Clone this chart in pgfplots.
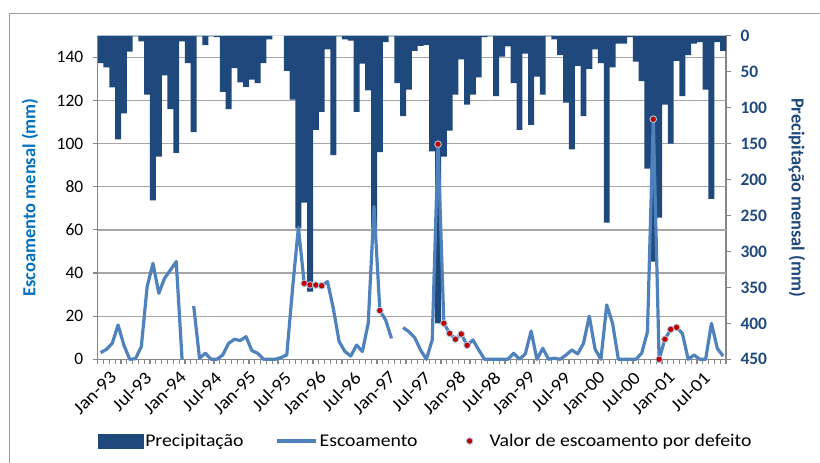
\documentclass[border=0pt]{standalone}
\usepackage{fontspec}
\setmainfont{Carlito}
\newfontfamily\stretchfont[FakeStretch=1.1]{Carlito}
\usepackage{pgfplots}
\usepackage{pgfplotstable}
\pgfplotsset{compat=1.18}
\definecolor{navy}{HTML}{1F497D}
\definecolor{lblue}{HTML}{4F81BD}
\definecolor{labblue}{HTML}{0070C0}
\definecolor{dred}{HTML}{C00000}
\definecolor{axgray}{HTML}{868686}
\definecolor{gridgray}{HTML}{A6A6A6}
\newcommand\cf{\fontsize{17.5}{21}\selectfont}
\newcommand\lf{\stretchfont\fontsize{18}{21}\selectfont}

\pgfplotstableread{
k p
0 38
1 44
2 72
3 144
4 108
5 22
6 1
7 8
8 82
9 229
10 168
11 55
12 102
13 163
14 8
15 38
16 134
17 1
18 13
19 1
20 2
21 78
22 102
23 45
24 65
25 71
26 61
27 66
28 38
29 5
30 0
31 0
32 49
33 89
34 268
35 232
36 356
37 131
38 106
39 19
40 166
41 1
42 5
43 7
44 106
45 39
46 76
47 268
48 162
49 9
50 1
51 66
52 112
53 75
54 21
55 14
56 13
57 161
58 400
59 168
60 132
61 82
62 33
63 96
64 82
65 58
66 2
67 1
68 84
69 29
70 15
71 66
72 131
73 25
74 124
75 57
76 82
77 1
78 5
79 27
80 93
81 158
82 42
83 112
84 46
85 19
86 38
87 260
88 44
89 11
90 11
91 2
92 36
93 63
94 185
95 314
96 253
97 96
98 150
99 35
100 84
101 27
102 11
103 9
104 75
105 227
106 9
107 21
}\prec

\pgfplotstableread{
k f
0 3.1
1 4.6
2 7.4
3 15.9
4 6.6
5 0
6 0.3
7 5.9
8 33.7
9 44.5
10 30.6
11 37.6
12 41.4
13 45.3
14 0
15 nan
16 24.7
17 0.5
18 2.8
19 0
20 0
21 2
22 7.4
23 9.3
24 8.7
25 10.5
26 4
27 2.8
28 0
29 0
30 0
31 0.8
32 2
33 33
34 61.2
35 35.2
36 34.5
37 34.4
38 34.1
39 36
40 23.6
41 8.2
42 3.6
43 1.5
44 6.6
45 3.6
46 16.7
47 70.8
48 22.6
49 18.2
50 9.7
51 nan
52 14.7
53 12.8
54 10
55 4.3
56 0
57 9
58 99.7
59 16.7
60 12
61 9.3
62 11.7
63 6.5
64 9
65 4.3
66 0
67 0
68 0
69 0
70 0
71 2.8
72 0
73 2.5
74 13.1
75 0
76 5.1
77 0
78 0.5
79 0
80 2
81 4.3
82 2.5
83 7.4
84 20
85 4.6
86 0
87 25.2
88 16.7
89 0
90 0
91 0
92 0
93 2.8
94 12.8
95 111.3
96 0
97 9.3
98 13.9
99 14.8
100 12
101 0
102 2
103 0
104 0
105 16.7
106 5.1
107 1.5
}\flow

\pgfplotstableread{
k f
35 35.2
36 34.5
37 34.4
38 34.1
48 22.6
58 99.7
59 16.7
60 12
61 9.3
62 11.7
63 6.5
95 111.3
96 0
97 9.3
98 13.9
99 14.8
}\defeito

\begin{document}
\begin{tikzpicture}
\draw[axgray!80, line width=1bp] (9bp,0bp) -- (9bp,449bp) -- (820bp,449bp);

% precipitation axis (right, reversed)
\begin{axis}[
  at={(97.7bp,103.7bp)}, anchor=south west,
  scale only axis, width=628.3bp, height=323.6bp,
  xmin=-0.5, xmax=107.5, ymin=0, ymax=450, y dir=reverse,
  axis x line=none, axis y line*=right,
  ytick={0,50,...,450},
  extra y ticks={30,90,150,210,270,330,390},
  extra y tick labels={},
  extra y tick style={grid=major, major tick length=0pt},
  major grid style={gridgray, line width=1.3bp},
  tick align=outside, major tick length=5bp,
  tick style={axgray, line width=1.2bp},
  y axis line style={axgray, line width=1.5bp},
  /pgf/number format/assume math mode=true,
  yticklabel style={font=\cf\bfseries, text=navy, xshift=6bp},
  ylabel={Precipitação mensal (mm)},
  every axis y label/.style={at={(axis description cs:1.113,0.5)}, rotate=-90, anchor=center, font=\fontsize{18.5}{22}\selectfont\bfseries, text=navy},
]
\addplot[ybar, bar width=5.95bp, bar shift=0pt, fill=navy, draw=none] table[x=k,y=p]{\prec};
\end{axis}

% flow axis (left)
\begin{axis}[
  at={(97.7bp,103.7bp)}, anchor=south west,
  scale only axis, width=628.3bp, height=323.6bp,
  xmin=-0.5, xmax=107.5, ymin=0, ymax=150,
  clip=false,
  axis x line*=bottom, axis y line*=left,
  ytick={0,20,...,140},
  xtick={0,6,...,102},
  xticklabels={Jan-93,Jul-93,Jan-94,Jul-94,Jan-95,Jul-95,Jan-96,Jul-96,Jan-97,Jul-97,Jan-98,Jul-98,Jan-99,Jul-99,Jan-00,Jul-00,Jan-01,Jul-01},
  minor xtick={-0.5,0.5,...,107.5},
  tick align=outside, major tick length=5bp, minor tick length=5bp,
  major x tick style={draw=none},
  tick style={axgray, line width=1.2bp},
  axis line style={axgray, line width=1.5bp},
  /pgf/number format/assume math mode=true,
  yticklabel style={font=\cf, text=black, xshift=-6bp},
  xticklabel style={font=\lf, rotate=45, anchor=north east, inner sep=1bp, yshift=-9bp, xshift=3bp},
  ylabel={Escoamento mensal (mm)},
  every axis y label/.style={at={(axis description cs:-0.1078,0.5)}, rotate=90, anchor=center, font=\fontsize{18.5}{22}\selectfont\bfseries, text=labblue},
  legend style={at={(axis description cs:0.0,-0.2525)}, anchor=west, draw=none, fill=none, inner sep=0pt, font=\lf,
    legend columns=3, /tikz/column 2/.style={column sep=30bp}, /tikz/column 4/.style={column sep=38bp}},
  legend cell align=left,
]
\addlegendimage{legend image code/.code={\fill[navy] (0bp,-7bp) rectangle (45bp,7bp);}}
\addlegendentry{Precipitação}
\addplot[lblue, line width=3.2bp, unbounded coords=jump, line join=round,
  legend image code/.code={\draw (0bp,0bp) -- (39bp,0bp);}] table[x=k,y=f]{\flow};
\addlegendentry{Escoamento}
\addplot[only marks, mark=*, mark size=3.3bp, mark options={fill=dred, draw=lblue!45, line width=0.9bp},
  legend image code/.code={\path[draw=none,fill=none] (0bp,-1bp) rectangle (30bp,1bp); \draw plot[only marks] coordinates {(12bp,0bp)};}] table[x=k,y=f]{\defeito};
\addlegendentry{Valor de escoamento por defeito}
\end{axis}
\pgfresetboundingbox
\path[use as bounding box] (0bp,0bp) rectangle (820bp,463bp);
\end{tikzpicture}
\end{document}
